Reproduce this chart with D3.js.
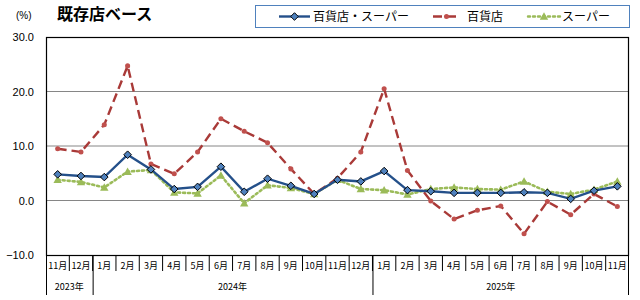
<!DOCTYPE html>
<html>
<head>
<meta charset="utf-8">
<script src="https://cdn.jsdelivr.net/npm/d3@7"></script>
<style>
  body { margin: 0; background: #fff; }
  svg { display: block; }
</style>
</head>
<body>
<svg id="chart" width="640" height="300"></svg>
<script>
// months on the category axis
const months = ["11月","12月","1月","2月","3月","4月","5月","6月","7月","8月","9月","10月","11月","12月",
                "1月","2月","3月","4月","5月","6月","7月","8月","9月","10月","11月"];
const years = [
    {label: "2023年", start: 0, end: 2},
    {label: "2024年", start: 2, end: 14},
    {label: "2025年", start: 14, end: 25}
];
// 百貨店・スーパー
const totalVals = [4.8, 4.5, 4.3, 8.4, 5.7, 2.1, 2.5, 6.2, 1.6, 4.0, 2.7, 1.2, 3.8, 3.5,
                   5.4, 1.9, 1.7, 1.4, 1.4, 1.4, 1.5, 1.4, 0.3, 1.8, 2.6];
// 百貨店
const deptVals = [9.5, 8.9, 13.9, 24.7, 6.7, 4.9, 8.9, 15.0, 12.7, 10.6, 5.8, 1.2, 4.1, 8.9,
                  20.5, 5.5, -0.1, -3.4, -1.8, -1.0, -6.1, -0.2, -2.6, 1.2, -1.1];
// スーパー
const superVals = [3.8, 3.4, 2.4, 5.3, 5.6, 1.5, 1.3, 4.6, -0.5, 2.8, 2.3, 1.2, 3.8, 2.1,
                   1.9, 1.1, 2.1, 2.4, 2.1, 2.0, 3.5, 1.6, 1.2, 2.0, 3.5];
const yTicks = [30, 20, 10, 0, -10];

const series = [
    {name: "百貨店・スーパー", values: totalVals, color: "#24508a", fill: "#4f81bd", marker: "diamond", dash: null},
    {name: "百貨店", values: deptVals, color: "#a93a38", fill: "#c0504d", marker: "circle", dash: "9,5"},
    {name: "スーパー", values: superVals, color: "#9bbb59", fill: "#9bbb59", marker: "triangle", dash: "2,3"}
];

const svg = d3.select("#chart");
const plot = {left: 46, right: 629, top: 37, bottom: 255};

const x = d3.scaleBand()
    .domain(d3.range(months.length))
    .range([plot.left, plot.right])
    .padding(0);
const y = d3.scaleLinear()
    .domain([-10, 30])
    .range([plot.bottom, plot.top]);

// gridlines
svg.append("g")
    .selectAll("line")
    .data(yTicks.filter(d => d > -10 && d < 30))
    .join("line")
    .attr("x1", plot.left).attr("x2", plot.right)
    .attr("y1", d => y(d)).attr("y2", d => y(d))
    .attr("stroke", "#868686")
    .attr("stroke-width", 1);

// plot frame
svg.append("rect")
    .attr("x", plot.left + 0.5).attr("y", plot.top + 0.5)
    .attr("width", plot.right - plot.left - 1)
    .attr("height", plot.bottom - plot.top)
    .attr("fill", "none")
    .attr("stroke", "#000")
    .attr("stroke-width", 1.2);

// y labels
svg.append("g")
    .selectAll("text")
    .data(yTicks)
    .join("text")
    .attr("x", 34)
    .attr("y", d => y(d) + 4)
    .attr("text-anchor", "end")
    .attr("font-family", "Liberation Sans, Arial, sans-serif")
    .attr("font-size", 11)
    .attr("fill", "#000")
    .text(d => d3.format(".1f")(d));

svg.append("text")
    .attr("x", 16).attr("y", 19)
    .attr("font-family", "Liberation Sans, Arial, sans-serif")
    .attr("font-size", 10)
    .text("(%)");

svg.append("text")
    .attr("x", 57).attr("y", 20)
    .attr("font-family", "Noto Sans CJK JP, sans-serif")
    .attr("font-size", 16)
    .attr("font-weight", "bold")
    .text("既存店ベース");

// category axis: month row
const axisG = svg.append("g");
const monthRowBottom = 271;
const yearRowBottom = 295;

axisG.selectAll("line.month-sep")
    .data(d3.range(1, months.length))
    .join("line")
    .attr("class", "month-sep")
    .attr("x1", d => x(d)).attr("x2", d => x(d))
    .attr("y1", plot.bottom).attr("y2", monthRowBottom)
    .attr("stroke", "#000");

axisG.selectAll("text.month")
    .data(months)
    .join("text")
    .attr("class", "month")
    .attr("x", (d, i) => x(i) + x.bandwidth() / 2)
    .attr("y", 269)
    .attr("text-anchor", "middle")
    .attr("font-family", "Noto Sans CJK JP, sans-serif")
    .attr("font-size", 9)
    .text(d => d);

// year row
const yearEdges = [0].concat(years.map(d => d.end));
axisG.selectAll("line.year-sep")
    .data(yearEdges)
    .join("line")
    .attr("class", "year-sep")
    .attr("x1", d => d === months.length ? plot.right - 0.5 : x(d) + 0.5)
    .attr("x2", d => d === months.length ? plot.right - 0.5 : x(d) + 0.5)
    .attr("y1", plot.bottom).attr("y2", yearRowBottom)
    .attr("stroke", "#000");

axisG.selectAll("text.year")
    .data(years)
    .join("text")
    .attr("class", "year")
    .attr("x", d => (x(d.start) + (d.end === months.length ? plot.right : x(d.end))) / 2)
    .attr("y", 290)
    .attr("text-anchor", "middle")
    .attr("font-family", "Noto Sans CJK JP, sans-serif")
    .attr("font-size", 9)
    .text(d => d.label);

// markers
function markerPath(type) {
    if (type === "diamond") return "M0,-3.8L3.8,0L0,3.8L-3.8,0Z";
    if (type === "triangle") return "M0,-4.2L4.2,3.3L-4.2,3.3Z";
    return d3.symbol().type(d3.symbolCircle).size(20)();
}

const line = d3.line()
    .x((d, i) => x(i) + x.bandwidth() / 2)
    .y(d => y(d));

// draw in order: supermarket, department, total on top
const drawOrder = [series[2], series[1], series[0]];
drawOrder.forEach(s => {
    const g = svg.append("g");
    g.append("path")
        .datum(s.values)
        .attr("fill", "none")
        .attr("stroke", s.color)
        .attr("stroke-width", s.marker === "triangle" ? 2.6 : 2.4)
        .attr("stroke-dasharray", s.dash)
        .attr("stroke-linecap", s.marker === "triangle" ? "round" : "butt")
        .attr("d", line);
    g.selectAll("path.pt")
        .data(s.values)
        .join("path")
        .attr("class", "pt")
        .attr("transform", (d, i) => `translate(${x(i) + x.bandwidth() / 2},${y(d)})`)
        .attr("d", markerPath(s.marker))
        .attr("fill", s.fill)
        .attr("stroke", s.marker === "diamond" ? "#000" : "none")
        .attr("stroke-width", 1);
});

// legend
const legend = svg.append("g");
legend.append("rect")
    .attr("x", 255.5).attr("y", 5.5)
    .attr("width", 374).attr("height", 22)
    .attr("fill", "#fff")
    .attr("stroke", "#4f81bd")
    .attr("stroke-width", 1);

const legendPos = [
    {x1: 279, x2: 310, tx: 313},
    {x1: 433, x2: 460, tx: 467},
    {x1: 528, x2: 560, tx: 562}
];
series.forEach((s, i) => {
    const p = legendPos[i];
    const ly = 16.5;
    legend.append("line")
        .attr("x1", p.x1).attr("x2", p.x2)
        .attr("y1", ly).attr("y2", ly)
        .attr("stroke", s.color)
        .attr("stroke-width", 2.4)
        .attr("stroke-dasharray", s.dash)
        .attr("stroke-linecap", s.marker === "triangle" ? "round" : "butt");
    legend.append("path")
        .attr("transform", `translate(${(p.x1 + p.x2) / 2},${ly})`)
        .attr("d", markerPath(s.marker))
        .attr("fill", s.fill)
        .attr("stroke", s.marker === "diamond" ? "#000" : "none");
    legend.append("text")
        .attr("x", p.tx).attr("y", ly + 4.5)
        .attr("font-family", "Noto Sans CJK JP, sans-serif")
        .attr("font-size", 12)
        .text(s.name);
});
</script>
</body>
</html>
